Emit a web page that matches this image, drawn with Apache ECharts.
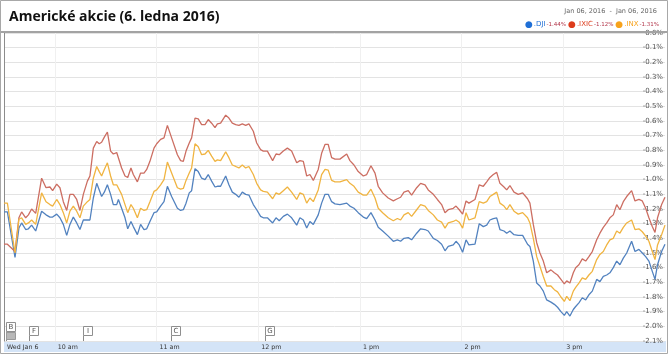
<!DOCTYPE html>
<html>
<head>
<meta charset="utf-8">
<script src="https://cdn.jsdelivr.net/npm/echarts@6/dist/echarts.min.js"></script>
<style>
  html, body { margin: 0; padding: 0; background: #fff; }
  #chart { width: 669px; height: 355px; }
</style>
</head>
<body>
<div id="chart"></div>
<script>
// minutes since the 9:30 open
const minutes = [
  0, 2, 6.5, 8.8, 10.4, 12.8, 14.4, 16.3, 18.7, 22.2,
  24.8, 27.1, 28.7, 31.1, 33, 35, 37, 38.9, 40.9, 42.9,
  44.8, 46.8, 49.2, 50.7, 52.7, 54.7, 56.2, 57.6, 59.2, 61,
  62.9, 64.5, 66.5, 67.5, 69.4, 71.4, 73, 74.9, 76.3, 78.7,
  80.6, 82.6, 84.2, 86.1, 88.5, 90.1, 92.4, 94.4, 96.4, 98.9,
  102.3, 104.2, 105.8, 107.4, 109.3, 110.7, 112.7, 114.6, 116.6, 118.6,
  120.5, 122.5, 124.5, 125.9, 127.8, 130.8, 132.7, 134.7, 136.7, 138.6,
  140.6, 142.6, 144.5, 147.1, 149.1, 151.4, 153, 155.4, 158.5, 160.5,
  162.4, 164.8, 167.2, 169.7, 172.7, 174.6, 176.6, 178.6, 180.5, 182.5,
  185.4, 187.4, 189.4, 191.3, 193.3, 195.3, 198.2, 202.2, 204.1, 206.5,
  209, 212, 214, 216.5, 218.9, 220.8, 223.4, 226.7, 229.7, 232.1,
  234, 236, 238.5, 240.5, 243.5, 245.8, 248.4, 250.3, 253.3, 255.7,
  258.2, 260.2, 262.1, 265.1, 266.7, 268.6, 270.6, 272.6, 274.3, 277.9,
  280.4, 282.8, 284.8, 286.7, 288.7, 290.7, 292.6, 295, 296.6, 298.5,
  300.9, 303.4, 306, 308.9, 310.3, 312.3, 314.3, 316.2, 318.2, 320.2,
  322.7, 324.7, 326.6, 328.6, 330.6, 332, 333.9, 335.9, 337.3, 339.2,
  341.2, 343.2, 345.1, 347.1, 349.7, 351.6, 353.6, 355.6, 357.5, 359.5,
  361.5, 363.4, 365.4, 367.4, 370.3, 372.3, 374.6, 376.6, 378.6, 380.5,
  382.5, 384.1, 385.6, 388, 390
];

const dji = [
  -1.22, -1.22, -1.53, -1.33, -1.295, -1.34, -1.335, -1.31, -1.35, -1.215,
  -1.24, -1.255, -1.255, -1.235, -1.26, -1.305, -1.38, -1.305, -1.255, -1.295,
  -1.34, -1.275, -1.275, -1.275, -1.125, -1.025, -1.07, -1.115, -1.085, -1.035,
  -1.10, -1.17, -1.17, -1.135, -1.195, -1.26, -1.335, -1.285, -1.32, -1.375,
  -1.305, -1.34, -1.335, -1.285, -1.225, -1.22, -1.18, -1.15, -1.045, -1.115,
  -1.195, -1.21, -1.205, -1.16, -1.09, -1.075, -0.925, -0.945, -0.99, -1.0,
  -0.965, -1.01, -1.05, -1.045, -1.045, -0.975, -1.035, -1.085, -1.10, -1.12,
  -1.085, -1.10, -1.105, -1.17, -1.205, -1.25, -1.26, -1.26, -1.295, -1.26,
  -1.28, -1.25, -1.235, -1.26, -1.31, -1.26, -1.275, -1.33, -1.285, -1.305,
  -1.24, -1.16, -1.10, -1.10, -1.15, -1.165, -1.17, -1.16, -1.18, -1.195,
  -1.225, -1.255, -1.265, -1.225, -1.275, -1.325, -1.35, -1.385, -1.42, -1.41,
  -1.42, -1.40, -1.395, -1.41, -1.365, -1.335, -1.34, -1.35, -1.40, -1.415,
  -1.44, -1.485, -1.455, -1.445, -1.42, -1.445, -1.495, -1.41, -1.445, -1.44,
  -1.30, -1.32, -1.31, -1.275, -1.265, -1.26, -1.34, -1.35, -1.365, -1.35,
  -1.375, -1.38, -1.38, -1.44, -1.455, -1.555, -1.705, -1.725, -1.76, -1.82,
  -1.835, -1.85, -1.87, -1.90, -1.925, -1.90, -1.93, -1.885, -1.865, -1.84,
  -1.805, -1.82, -1.785, -1.76, -1.68, -1.695, -1.66, -1.65, -1.635, -1.60,
  -1.555, -1.58, -1.535, -1.50, -1.42, -1.49, -1.475, -1.50, -1.525, -1.555,
  -1.625, -1.68, -1.58, -1.49, -1.44
];

const ixic = [
  -1.44, -1.44, -1.49, -1.26, -1.22, -1.26, -1.24, -1.20, -1.23, -0.99,
  -1.055, -1.05, -1.075, -1.03, -1.055, -1.15, -1.21, -1.10, -1.10, -1.135,
  -1.21, -1.10, -1.01, -0.975, -0.785, -0.74, -0.755, -0.745, -0.71, -0.675,
  -0.805, -0.825, -0.815, -0.805, -0.92, -0.975, -0.985, -0.92, -0.965, -1.015,
  -0.955, -0.955, -0.93, -0.875, -0.785, -0.755, -0.725, -0.715, -0.63, -0.715,
  -0.83, -0.87, -0.875, -0.805, -0.75, -0.715, -0.58, -0.585, -0.625, -0.625,
  -0.59, -0.615, -0.645, -0.62, -0.615, -0.56, -0.58, -0.615, -0.625, -0.63,
  -0.62, -0.63, -0.62, -0.67, -0.75, -0.795, -0.805, -0.805, -0.87, -0.825,
  -0.83, -0.805, -0.785, -0.805, -0.885, -0.87, -0.875, -0.975, -0.965, -1.005,
  -0.93, -0.82, -0.76, -0.76, -0.85, -0.86, -0.86, -0.825, -0.87, -0.90,
  -0.945, -0.975, -0.965, -0.905, -0.955, -1.045, -1.09, -1.125, -1.145, -1.13,
  -1.12, -1.085, -1.075, -1.105, -1.055, -1.025, -1.035, -1.07, -1.10, -1.135,
  -1.17, -1.225, -1.205, -1.195, -1.18, -1.205, -1.235, -1.145, -1.16, -1.135,
  -1.035, -1.045, -1.015, -0.985, -0.965, -0.95, -1.025, -1.05, -1.07, -1.04,
  -1.085, -1.10, -1.09, -1.13, -1.16, -1.305, -1.43, -1.50, -1.555, -1.635,
  -1.615, -1.635, -1.65, -1.68, -1.71, -1.69, -1.705, -1.635, -1.60, -1.58,
  -1.54, -1.555, -1.525, -1.49, -1.41, -1.365, -1.325, -1.295, -1.26, -1.24,
  -1.17, -1.205, -1.15, -1.115, -1.075, -1.145, -1.135, -1.145, -1.195, -1.26,
  -1.32, -1.36, -1.26, -1.17, -1.12
];

const inx = [
  -1.16, -1.16, -1.50, -1.27, -1.26, -1.305, -1.295, -1.275, -1.305, -1.09,
  -1.15, -1.17, -1.18, -1.135, -1.17, -1.225, -1.295, -1.215, -1.18, -1.215,
  -1.26, -1.18, -1.15, -1.135, -0.99, -0.91, -0.945, -0.975, -0.93, -0.885,
  -0.975, -1.035, -1.035, -1.025, -1.10, -1.17, -1.225, -1.17, -1.195, -1.26,
  -1.195, -1.21, -1.205, -1.15, -1.08, -1.07, -1.035, -1.0, -0.88, -0.955,
  -1.055, -1.065, -1.06, -1.005, -0.955, -0.92, -0.755, -0.775, -0.83, -0.825,
  -0.80, -0.84, -0.875, -0.865, -0.87, -0.81, -0.85, -0.90, -0.91, -0.92,
  -0.90, -0.92, -0.91, -0.965, -1.025, -1.07, -1.08, -1.085, -1.13, -1.09,
  -1.10, -1.075, -1.05, -1.085, -1.135, -1.09, -1.10, -1.16, -1.125, -1.15,
  -1.07, -0.965, -0.93, -0.935, -1.005, -1.015, -1.015, -1.0, -1.025, -1.045,
  -1.085, -1.105, -1.105, -1.065, -1.125, -1.195, -1.225, -1.26, -1.28, -1.265,
  -1.275, -1.24, -1.225, -1.25, -1.205, -1.17, -1.18, -1.21, -1.24, -1.275,
  -1.29, -1.33, -1.295, -1.285, -1.275, -1.29, -1.33, -1.225, -1.275, -1.26,
  -1.15, -1.16, -1.15, -1.115, -1.10, -1.085, -1.16, -1.18, -1.205, -1.17,
  -1.215, -1.235, -1.225, -1.26, -1.295, -1.40, -1.525, -1.59, -1.66, -1.725,
  -1.725, -1.75, -1.765, -1.80, -1.83, -1.795, -1.825, -1.76, -1.735, -1.705,
  -1.67, -1.68, -1.65, -1.625, -1.545, -1.51, -1.49, -1.445, -1.41, -1.40,
  -1.35, -1.365, -1.325, -1.295, -1.275, -1.34, -1.335, -1.355, -1.385, -1.42,
  -1.49, -1.545, -1.445, -1.375, -1.31
];

const seriesNames = ['.DJI', '.IXIC', '.INX'];
const changes = ['-1.44%', '-1.12%', '-1.31%'];
const lineColors = ['#5282bf', '#cc6e62', '#f0b441'];
const dotColors = ['#1f6fd6', '#dd3c1c', '#f7a21b'];

// x-axis ticks (minutes since open) and their labels
const tickMinutes = [0, 30, 90, 150, 210, 270, 330];
const tickLabels = ['Wed Jan 6', '10 am', '11 am', '12 pm', '1 pm', '2 pm', '3 pm'];

// news flags along the bottom
const flagLetters = ['B', 'F', 'I', 'C', 'G'];
const flagTimes = [1, 14.7, 46.6, 98.8, 154];
const flagRows = [1, 0, 0, 0, 0];

const yMin = -2.1;
const yMax = 0;

const chart = echarts.init(document.getElementById('chart'));

const lineSeries = [dji, ixic, inx].map((vals, i) => ({
  name: seriesNames[i],
  type: 'line',
  yAxisIndex: 0,
  data: minutes.map((m, j) => [m, vals[j]]),
  showSymbol: false,
  symbol: 'none',
  lineStyle: { color: lineColors[i], width: 1.3 },
  itemStyle: { color: lineColors[i] },
  animation: false,
  z: 3 + i,
}));

const flagSeries = {
  name: 'flags',
  type: 'custom',
  coordinateSystem: 'cartesian2d',
  yAxisIndex: 0,
  silent: true,
  clip: false,
  z: 6,
  data: flagTimes.map(t => [t, yMin]),
  encode: { x: 0, y: 1 },
  renderItem: (params, api) => {
    const p = api.coord([api.value(0), api.value(1)]);
    const row = flagRows[params.dataIndex];
    const x = Math.round(p[0]) + 0.5;
    const yb = Math.round(p[1]);
    const top = yb - 15 - row * 4 + 0.5;
    const children = [
      { type: 'line', shape: { x1: x, y1: top + 9, x2: x, y2: yb }, style: { stroke: '#8a8a8a', lineWidth: 1 } },
      { type: 'rect', shape: { x: x, y: top, width: 9, height: 9 }, style: { fill: '#fff', stroke: '#8f8f8f', lineWidth: 1 } },
      {
        type: 'text',
        style: {
          text: flagLetters[params.dataIndex], x: x + 4.5, y: top + 5,
          align: 'center', verticalAlign: 'middle',
          fontSize: 7, fontFamily: 'DejaVu Sans', fill: '#555',
        },
      },
    ];
    if (row) {
      children.push({ type: 'rect', shape: { x: x, y: yb - 8.5, width: 9, height: 7 }, style: { fill: '#b8b8b8', stroke: '#9a9a9a', lineWidth: 1 } });
    }
    return { type: 'group', children };
  },
};

// legend rich styles: a dot and a name per index, plus the change value
const legendRich = { p: { fontFamily: 'DejaVu Sans', fontSize: 5.5, color: '#b2364a', padding: [1, 0, 0, 1] } };
seriesNames.forEach((n, i) => {
  legendRich['d' + i] = { fontSize: 9, color: dotColors[i], padding: [0, 1, 0, 0] };
  legendRich['n' + i] = { fontFamily: 'DejaVu Sans', fontSize: 7, color: dotColors[i] };
});

chart.setOption({
  animation: false,
  backgroundColor: '#fff',
  title: [
    {
      text: 'Americké akcie (6. ledna 2016)',
      left: 4, top: 5,
      textStyle: { fontFamily: 'Open Sans', fontWeight: 'bold', fontSize: 14, color: '#111' },
    },
    {
      text: 'Jan 06, 2016  -  Jan 06, 2016',
      right: 7, top: 3,
      textStyle: { fontFamily: 'DejaVu Sans', fontWeight: 'normal', fontSize: 6.5, color: '#666' },
    },
  ],
  legend: {
    right: 5, top: 15,
    orient: 'horizontal',
    icon: 'circle',
    itemWidth: 0, itemHeight: 0, itemGap: -3,
    selectedMode: false,
    data: seriesNames,
    formatter: name => {
      const i = seriesNames.indexOf(name);
      return `{d${i}|●}{n${i}|${name}}{p|${changes[i]}}`;
    },
    textStyle: { fontFamily: 'DejaVu Sans', fontSize: 7, rich: legendRich },
  },
  grid: { left: 4, right: 4, top: 33, bottom: 14, outerBoundsMode: 'none', containLabel: false },
  xAxis: {
    type: 'value',
    min: 0, max: 390,
    axisLine: { show: false },
    axisTick: {
      show: true, inside: true, length: 2, customValues: tickMinutes,
      lineStyle: { color: '#9a9a9a' },
    },
    axisLabel: {
      customValues: tickMinutes,
      formatter: v => tickLabels[tickMinutes.indexOf(v)],
      align: 'left', margin: 3,
      padding: [0, 0, 0, 3],
      fontFamily: 'DejaVu Sans', fontSize: 6.3, color: '#333',
    },
    splitLine: { show: true, lineStyle: { color: '#f0f0f0', width: 1 } },
  },
  yAxis: [
    {
      type: 'value', position: 'right',
      min: yMin, max: yMax, interval: 0.1,
      axisLine: { show: false },
      axisTick: { show: false },
      axisLabel: {
        inside: true, margin: 2,
        verticalAlign: 'middle', padding: [0, 0, 4, 0],
        fontFamily: 'DejaVu Sans', fontSize: 7, color: '#555',
        formatter: v => (Math.abs(v) < 1e-9 ? '0.0' : v.toFixed(1)) + '%',
      },
      splitLine: { show: true, lineStyle: { color: '#e3e3e3', width: 1 } },
    },
    {
      type: 'value', position: 'left',
      min: yMin, max: yMax,
      axisLine: { show: true, lineStyle: { color: '#8c8c8c', width: 1 } },
      axisTick: { show: false },
      axisLabel: { show: false },
      splitLine: { show: false },
    },
  ],
  graphic: [
    { type: 'rect', z: -1, shape: { x: 4, y: 341, width: 662, height: 11 }, style: { fill: '#d4e4f7' } },
    { type: 'line', z: 100, shape: { x1: 1, y1: 32, x2: 668, y2: 32 }, style: { stroke: '#a3a3a3', lineWidth: 2 } },
    { type: 'rect', z: 100, shape: { x: 0.5, y: 0.5, width: 667, height: 353 }, style: { fill: 'none', stroke: '#a8a8a8', lineWidth: 1 } },
  ],
  series: [...lineSeries, flagSeries],
});
</script>
</body>
</html>
